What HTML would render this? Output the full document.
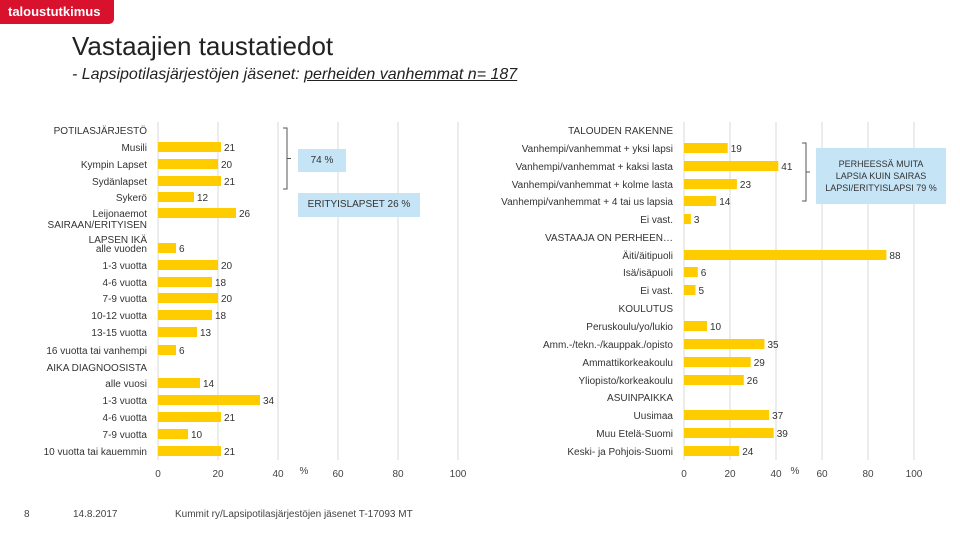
<!DOCTYPE html>
<html><head><meta charset="utf-8"><style>
body{margin:0;width:960px;height:540px;background:#fff;position:relative;overflow:hidden;font-family:"Liberation Sans",sans-serif;}
.a{position:absolute;}
</style></head><body>
<div class="a" style="left:0;top:0;width:114px;height:24px;background:#d8112d;border-bottom-right-radius:5px;color:#fff;font-size:13px;font-weight:bold;line-height:24px;padding-left:8px;box-sizing:border-box">taloustutkimus</div>
<div class="a" style="left:72px;top:31px;font-size:26px;color:#222">Vastaajien taustatiedot</div>
<div class="a" style="left:72px;top:66px;font-size:16px;font-style:italic;color:#222">- Lapsipotilasjärjestöjen jäsenet: <span style="text-decoration:underline">perheiden vanhemmat n= 187</span></div>
<svg class="a" style="left:0;top:0" width="960" height="540" id="svg" font-family="Liberation Sans, sans-serif"></svg>
<div class="a" style="left:298px;top:149px;width:48px;height:23px;background:#c5e4f6;font-size:10px;line-height:23px;text-align:center;color:#333">74 %</div>
<div class="a" style="left:298px;top:193px;width:122px;height:24px;background:#c5e4f6;font-size:10px;line-height:24px;text-align:center;color:#333">ERITYISLAPSET 26 %</div>
<div class="a" style="left:816px;top:148px;width:130px;height:56px;background:#c5e4f6;font-size:9px;line-height:12px;text-align:center;color:#333;padding-top:10px;box-sizing:border-box">PERHEESSÄ MUITA<br>LAPSIA KUIN SAIRAS<br>LAPSI/ERITYISLAPSI 79 %</div>
<div class="a" style="left:24px;top:509px;font-size:10px;color:#444">8</div>
<div class="a" style="left:73px;top:509px;font-size:10px;color:#444">14.8.2017</div>
<div class="a" style="left:175px;top:509px;font-size:10px;color:#444">Kummit ry/Lapsipotilasjärjestöjen jäsenet T-17093 MT</div>
<script>
const leftLabels=["POTILASJÄRJESTÖ","Musili","Kympin Lapset","Sydänlapset","Sykerö","Leijonaemot","SAIRAAN/ERITYISEN","LAPSEN IKÄ","alle vuoden","1-3 vuotta","4-6 vuotta","7-9 vuotta","10-12 vuotta","13-15 vuotta","16 vuotta tai vanhempi","AIKA DIAGNOOSISTA","alle vuosi","1-3 vuotta","4-6 vuotta","7-9 vuotta","10 vuotta tai kauemmin"];
const leftValues=[null,21,20,21,12,26,null,null,6,20,18,20,18,13,6,null,14,34,21,10,21];
const leftY=[130,147,164,181,197,213,224,239,248,265,282,298,315,332,350,367,383,400,417,434,451];
const rightLabels=["TALOUDEN RAKENNE","Vanhempi/vanhemmat + yksi lapsi","Vanhempi/vanhemmat + kaksi lasta","Vanhempi/vanhemmat + kolme lasta","Vanhempi/vanhemmat + 4 tai us lapsia","Ei vast.","VASTAAJA ON PERHEEN…","Äiti/äitipuoli","Isä/isäpuoli","Ei vast.","KOULUTUS","Peruskoulu/yo/lukio","Amm.-/tekn.-/kauppak./opisto","Ammattikorkeakoulu","Yliopisto/korkeakoulu","ASUINPAIKKA","Uusimaa","Muu Etelä-Suomi","Keski- ja Pohjois-Suomi"];
const rightValues=[null,19,41,23,14,3,null,88,6,5,null,10,35,29,26,null,37,39,24];
const rightY=[130,148,166,184,201,219,237,255,272,290,308,326,344,362,380,397,415,433,451];
const ticks=[0,20,40,60,80,100];
const svg=document.getElementById('svg');
const NS='http://www.w3.org/2000/svg';
function mk(t,a){const e=document.createElementNS(NS,t);for(const k in a)e.setAttribute(k,a[k]);svg.appendChild(e);return e;}
function chart(x0,scale,labels,values,ys,labelRight,side){
  const xs=v=>x0+v*scale;
  ticks.forEach(t=>{
    const l=mk('line',{x1:xs(t),x2:xs(t),y1:122,y2:460,stroke:'#d9d9d9','stroke-width':1});
    
    
    const tx=mk('text',{x:xs(t),y:477,'font-size':10,'text-anchor':'middle',fill:'#444'});
    tx.textContent=t;
    
    
  });
  const pct=mk('text',{x:(xs(40)+xs(60))/2-4,y:474,'font-size':10,'text-anchor':'middle',fill:'#444'});
  pct.textContent='%';
  
  
  labels.forEach((lab,i)=>{
    const t=mk('text',{x:labelRight,y:ys[i]+4,'font-size':10,'text-anchor':'end',fill:'#333'});
    t.textContent=lab;
    
    
    const v=values[i];
    if(v!=null){
      const r=mk('rect',{x:xs(0),y:ys[i]-5,width:v*scale,height:10,fill:'#ffcc00'});
      
      
      const vt=mk('text',{x:xs(v)+3,y:ys[i]+4,'font-size':10,fill:'#333'});
      vt.textContent=v;
      
      
    }
  });
}
chart(158,3.0,leftLabels,leftValues,leftY,147,'left');
chart(684,2.3,rightLabels,rightValues,rightY,673,'right');
function bracket(x,y1,y2){
  const p=mk('path',{d:`M${x-4} ${y1} H${x} V${y2} H${x-4} M${x} ${(y1+y2)/2} H${x+4}`,fill:'none',stroke:'#555','stroke-width':1});
  
  
}
bracket(287,128,189);
bracket(806,143,201);
</script>
</body></html>
